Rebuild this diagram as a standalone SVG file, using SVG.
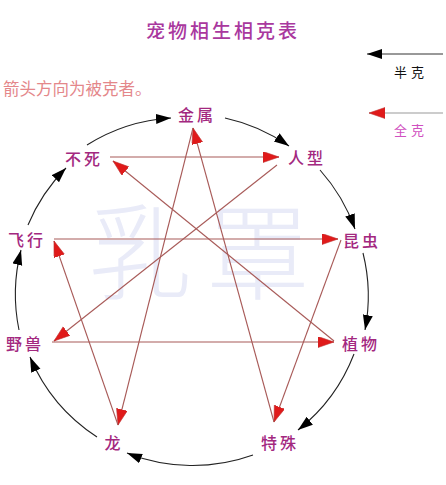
<svg xmlns="http://www.w3.org/2000/svg" width="446" height="485" viewBox="0 0 446 485">
<style>
.lbl{font-family:"Noto Sans CJK SC","Noto Sans CJK JP",sans-serif;font-size:16px;fill:#a3287f;text-anchor:middle;dominant-baseline:central;letter-spacing:3px;font-weight:500}
.wm{font-family:"Noto Sans CJK SC",sans-serif;font-size:104px;fill:#e9ebf8;font-weight:300}
.arc{fill:none;stroke:#222;stroke-width:1.1}
.red{fill:none;stroke:#a85a58;stroke-width:1.1}
</style>
<defs>
<marker id="bk" markerUnits="userSpaceOnUse" markerWidth="16" markerHeight="12" refX="15" refY="5" orient="auto"><path d="M0,0 L15,5 L0,10 z" fill="#000"/></marker>
<marker id="rd" markerUnits="userSpaceOnUse" markerWidth="18" markerHeight="13" refX="16" refY="5.5" orient="auto"><path d="M0,0 L16,5.5 L0,11 z" fill="#e01a1a" stroke="#c03030" stroke-width="0.6"/></marker>
</defs>
<rect width="446" height="485" fill="#fff"/>
<text class="wm" x="88" y="292">乳</text>
<text class="wm" x="206" y="292">罩</text>
<text x="223" y="29" font-family="Noto Sans CJK SC,sans-serif" font-size="19" font-weight="500" fill="#a9389e" text-anchor="middle" dominant-baseline="central" letter-spacing="3">宠物相生相克表</text>
<text x="3" y="88" font-family="Noto Sans CJK SC,sans-serif" font-size="16.5" fill="#e4878a" dominant-baseline="central">箭头方向为被克者。</text>
<g id="legend">
<line x1="443" y1="54" x2="367" y2="54" stroke="#333" stroke-width="1" marker-end="url(#bk)"/>
<text x="411" y="71" font-family="Noto Sans CJK SC,sans-serif" font-size="13" fill="#111" text-anchor="middle" dominant-baseline="central" letter-spacing="4">半克</text>
<line x1="443" y1="113" x2="369" y2="113" stroke="#999" stroke-width="1" marker-end="url(#rd)"/>
<text x="411" y="129" font-family="Noto Sans CJK SC,sans-serif" font-size="13" fill="#d050c0" text-anchor="middle" dominant-baseline="central" letter-spacing="4">全克</text>
</g>
<g id="connectors">
<path class="arc" d="M87,145 A178,178 0 0 1 171,118" marker-end="url(#bk)"/>
<path class="arc" d="M225,118 A178,178 0 0 1 289,146" marker-end="url(#bk)"/>
<path class="arc" d="M320,170 A178,178 0 0 1 355,229" marker-end="url(#bk)"/>
<path class="arc" d="M363,253 A178,178 0 0 1 365,330" marker-end="url(#bk)"/>
<path class="arc" d="M354,354 A178,178 0 0 1 298,430" marker-end="url(#bk)"/>
<path class="arc" d="M253,455 A178,178 0 0 1 127,453" marker-end="url(#bk)"/>
<path class="arc" d="M97,437 A178,178 0 0 1 30,357" marker-end="url(#bk)"/>
<path class="arc" d="M19,330 A178,178 0 0 1 21,250" marker-end="url(#bk)"/>
<path class="arc" d="M28,225 A178,178 0 0 1 66,168" marker-end="url(#bk)"/>
<line class="red" x1="110" y1="157" x2="279" y2="157" marker-end="url(#rd)"/>
<line class="red" x1="277" y1="165" x2="54" y2="341" marker-end="url(#rd)"/>
<line class="red" x1="52" y1="342" x2="334" y2="342" marker-end="url(#rd)"/>
<line class="red" x1="334" y1="341" x2="113" y2="161" marker-end="url(#rd)"/>
<line class="red" x1="54" y1="239" x2="338" y2="239" marker-end="url(#rd)"/>
<line class="red" x1="341" y1="240" x2="274" y2="422" marker-end="url(#rd)"/>
<line class="red" x1="274" y1="422" x2="193" y2="128" marker-end="url(#rd)"/>
<line class="red" x1="193" y1="128" x2="118" y2="425" marker-end="url(#rd)"/>
<line class="red" x1="118" y1="425" x2="54" y2="241" marker-end="url(#rd)"/>
</g>
<g id="n-jinshu"><text class="lbl" x="197" y="114">金属</text></g>
<g id="n-renxing"><text class="lbl" x="307" y="157">人型</text></g>
<g id="n-kunchong"><text class="lbl" x="362" y="240">昆虫</text></g>
<g id="n-zhiwu"><text class="lbl" x="361" y="343">植物</text></g>
<g id="n-teshu"><text class="lbl" x="280" y="442">特殊</text></g>
<g id="n-long"><text class="lbl" x="114" y="442">龙</text></g>
<g id="n-yeshou"><text class="lbl" x="25" y="343">野兽</text></g>
<g id="n-feixing"><text class="lbl" x="27" y="239">飞行</text></g>
<g id="n-busi"><text class="lbl" x="84" y="158">不死</text></g>
</svg>
